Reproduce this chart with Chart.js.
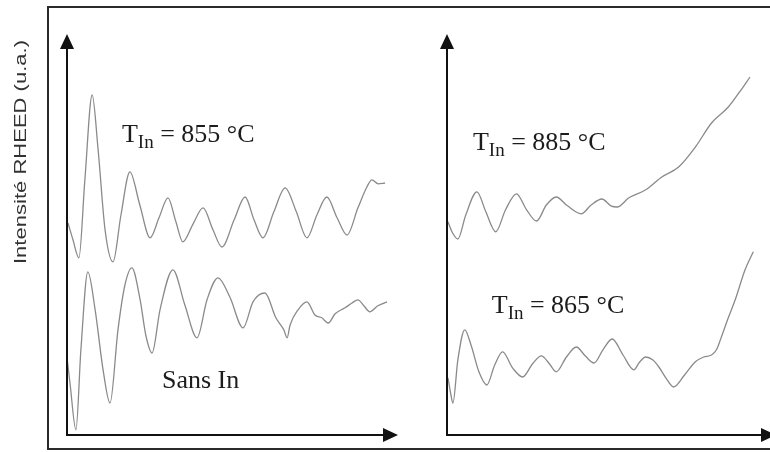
<!DOCTYPE html>
<html>
<head>
<meta charset="utf-8">
<script src="https://cdn.jsdelivr.net/npm/chart.js@4/dist/chart.umd.min.js"></script>
<style>
    html, body { margin: 0; padding: 0; background: #fff; width: 770px; height: 452px; overflow: hidden; }
    #frame { position: absolute; left: 47px; top: 6px; width: 800px; height: 440px; border: 2px solid #2a2a2a; }
    #left { position: absolute; left: 0; top: 0; }
    #right { position: absolute; left: 430px; top: 0; }
</style>
</head>
<body>
<div id="frame"></div>
<canvas id="left" width="430" height="452"></canvas>
<canvas id="right" width="360" height="452"></canvas>
<script>
/**
 * Oscillations RHEED - temps (u.a.) / intensité (u.a.)
 * Valeurs relevées à la main sur la figure
 */

// Panneau gauche : T_In = 855 °C
const t855 = [0.3, 1.8, 3.6, 5.4, 7.6, 9.4, 11.5, 13.9, 16.3, 19.0, 22.0, 25.1, 27.8, 30.5, 32.9, 35.0,
    38.1, 41.1, 44.1, 46.8, 50.5, 53.8, 56.5, 59.2, 62.5, 65.9, 69.2, 72.5, 75.5, 78.5, 81.6, 84.6,
    87.9, 90.6, 92.1, 94.0, 96.1];
const i855 = [53.0, 48.8, 44.3, 63.8, 85.0, 71.3, 51.3, 43.3, 55.0, 65.8, 57.5, 49.3, 54.3, 59.3, 53.3, 48.3,
    52.8, 56.8, 51.3, 47.0, 53.8, 59.5, 53.8, 49.3, 55.8, 61.8, 56.0, 49.3, 55.0, 59.5, 54.3, 50.0,
    56.8, 62.0, 63.8, 62.8, 63.0];

// Panneau gauche : sans In
const tSans = [0, 0.9, 2.7, 4.2, 6.3, 8.5, 10.9, 13.0, 15.4, 17.5, 19.6, 22.1, 23.8, 25.7, 28.1, 32.0,
    35.6, 39.3, 42.3, 45.6, 49.2, 53.2, 56.2, 59.8, 63.1, 65.5, 66.5, 67.4, 69.8, 72.5, 74.9, 77.0,
    78.9, 81.0, 84.0, 86.1, 87.9, 89.7, 91.5, 93.9, 96.7];
const iSans = [19.3, 13.0, 1.3, 21.3, 40.8, 31.3, 16.3, 8.0, 26.3, 37.5, 41.8, 33.8, 25.0, 20.5, 31.3, 41.3,
    32.5, 24.3, 33.8, 39.3, 34.5, 26.8, 33.3, 35.5, 29.3, 26.3, 24.3, 27.5, 31.3, 33.3, 30.0, 29.3,
    28.0, 30.3, 31.8, 33.0, 33.8, 32.3, 30.8, 32.3, 33.3];

// Panneau droit : T_In = 885 °C
const t885 = [0.3, 1.5, 3.3, 5.7, 9.1, 11.8, 14.8, 17.8, 21.1, 24.2, 27.2, 30.2, 33.2, 36.6, 40.8, 43.8,
    47.1, 49.8, 51.7, 55.3, 60.4, 65.3, 70.4, 75.5, 80.4, 85.5, 89.4, 92.1];
const i885 = [53.3, 50.8, 49.0, 55.0, 60.8, 55.8, 50.8, 56.3, 60.3, 56.3, 53.5, 57.5, 59.5, 57.3, 55.3, 57.5,
    59.0, 57.3, 57.0, 59.3, 61.3, 64.5, 67.0, 72.0, 78.0, 82.0, 86.3, 89.5];

// Panneau droit : T_In = 865 °C
const t865 = [0.3, 1.2, 1.8, 3.3, 5.4, 7.3, 9.7, 12.1, 14.5, 16.9, 19.9, 23.0, 26.0, 28.7, 31.1, 33.2,
    36.3, 39.3, 42.0, 44.7, 47.4, 50.2, 53.5, 56.8, 58.6, 60.4, 62.5, 64.4, 66.5, 68.9, 72.2, 75.5,
    78.0, 80.4, 81.9, 83.4, 85.5, 87.6, 90.6, 93.1];
const i865 = [14.3, 10.0, 8.0, 18.8, 26.3, 22.5, 15.8, 12.5, 17.5, 20.8, 16.8, 14.5, 17.8, 19.8, 17.8, 15.8,
    19.5, 22.0, 19.8, 18.0, 21.3, 24.0, 20.0, 16.3, 18.3, 19.5, 18.8, 17.0, 14.3, 12.0, 15.0, 18.3,
    19.5, 20.0, 21.3, 24.5, 29.3, 33.8, 41.3, 45.8];

const yTitle = 'Intensité RHEED (u.a.)';

const CURVE_COLOR = '#8a8a8a';
const AXIS_COLOR = '#111';
const TEXT_COLOR = '#1c1c1c';

function toPoints(xs, ys) {
    return xs.map((x, k) => ({ x: x, y: ys[k] }));
}

function curve(xs, ys) {
    return {
        data: toPoints(xs, ys),
        borderColor: CURVE_COLOR,
        borderWidth: 1.3,
        pointRadius: 0,
        cubicInterpolationMode: 'monotone',
        clip: false
    };
}

// Axes avec flèches (sans graduations)
const arrowAxes = {
    id: 'arrowAxes',
    afterDraw(chart) {
        const { ctx, chartArea: a } = chart;
        ctx.save();
        ctx.strokeStyle = AXIS_COLOR;
        ctx.fillStyle = AXIS_COLOR;
        ctx.lineWidth = 2;
        ctx.beginPath();
        ctx.moveTo(a.left, a.bottom + 1);
        ctx.lineTo(a.left, a.top + 10);
        ctx.moveTo(a.left - 1, a.bottom);
        ctx.lineTo(a.right - 10, a.bottom);
        ctx.stroke();
        // flèche verticale
        ctx.beginPath();
        ctx.moveTo(a.left, a.top - 1);
        ctx.lineTo(a.left - 7, a.top + 14);
        ctx.lineTo(a.left + 7, a.top + 14);
        ctx.closePath();
        ctx.fill();
        // flèche horizontale
        ctx.beginPath();
        ctx.moveTo(a.right, a.bottom);
        ctx.lineTo(a.right - 15, a.bottom - 7);
        ctx.lineTo(a.right - 15, a.bottom + 7);
        ctx.closePath();
        ctx.fill();
        ctx.restore();
    }
};

// Étiquettes du type T_In = 855 °C
const curveLabels = {
    id: 'curveLabels',
    afterDraw(chart, args, opts) {
        const { ctx, scales } = chart;
        ctx.save();
        ctx.fillStyle = TEXT_COLOR;
        ctx.textBaseline = 'alphabetic';
        ctx.textAlign = 'left';
        (opts.items || []).forEach(function (it) {
            let px = scales.x.getPixelForValue(it.x);
            const py = scales.y.getPixelForValue(it.y);
            ctx.font = '26px "Liberation Serif", "Times New Roman", serif';
            ctx.fillText(it.main, px, py);
            px += ctx.measureText(it.main).width;
            if (it.sub) {
                ctx.font = '19px "Liberation Serif", "Times New Roman", serif';
                ctx.fillText(it.sub, px, py + 6);
                px += ctx.measureText(it.sub).width;
            }
            if (it.rest) {
                ctx.font = '26px "Liberation Serif", "Times New Roman", serif';
                ctx.fillText(it.rest, px, py);
            }
        });
        ctx.restore();
    }
};

// Titre vertical de l'axe des intensités
const yAxisTitle = {
    id: 'yAxisTitle',
    afterDraw(chart, args, opts) {
        if (!opts.text) return;
        const ctx = chart.ctx;
        ctx.save();
        ctx.font = '17px "Liberation Sans", Arial, sans-serif';
        ctx.fillStyle = '#333';
        ctx.textAlign = 'center';
        ctx.textBaseline = 'middle';
        const w = ctx.measureText(opts.text).width;
        ctx.translate(21, 152);
        ctx.rotate(-Math.PI / 2);
        ctx.scale(224 / w, 1);
        ctx.fillText(opts.text, 0, 0);
        ctx.restore();
    }
};

function panelOptions(padding, items, title) {
    return {
        responsive: false,
        animation: false,
        layout: { padding: padding },
        plugins: {
            legend: { display: false },
            tooltip: { enabled: false },
            curveLabels: { items: items },
            yAxisTitle: { text: title }
        },
        scales: {
            x: { type: 'linear', display: false, min: 0, max: 100 },
            y: { type: 'linear', display: false, min: 0, max: 100 }
        }
    };
}

new Chart(document.getElementById('left'), {
    type: 'line',
    data: { datasets: [curve(t855, i855), curve(tSans, iSans)] },
    options: panelOptions({ left: 67, right: 32, top: 35, bottom: 17 }, [
        { x: 16.6, y: 73.3, main: 'T', sub: 'In', rest: ' = 855 °C' },
        { x: 28.7, y: 11.8, main: 'Sans In' }
    ], yTitle),
    plugins: [arrowAxes, curveLabels, yAxisTitle]
});

new Chart(document.getElementById('right'), {
    type: 'line',
    data: { datasets: [curve(t885, i885), curve(t865, i865)] },
    options: panelOptions({ left: 17, right: 14, top: 35, bottom: 17 }, [
        { x: 7.9, y: 71.3, main: 'T', sub: 'In', rest: ' = 885 °C' },
        { x: 13.6, y: 30.5, main: 'T', sub: 'In', rest: ' = 865 °C' }
    ], null),
    plugins: [arrowAxes, curveLabels, yAxisTitle]
});
</script>
</body>
</html>
